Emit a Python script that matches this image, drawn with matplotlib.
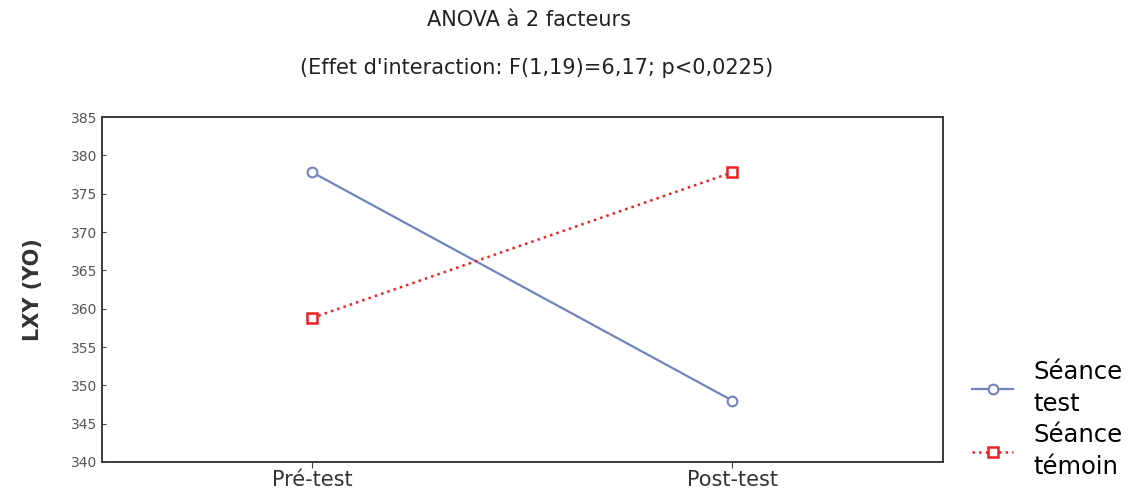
import matplotlib.pyplot as plt
import numpy as np

# Données
phases = ['Pré-test', 'Post-test']
seance_test = [377.8, 348.0]
seance_temoin = [358.8, 377.8]
y_ticks = [340, 345, 350, 355, 360, 365, 370, 375, 380, 385]

plt.rcParams['font.family'] = ['DejaVu Sans']

fig = plt.figure(figsize=(11.33, 4.92), dpi=100)
ax = fig.add_axes([0.090, 0.061, 0.742, 0.701])

x = np.arange(len(phases))
ax.plot(x, seance_test, color='#7283bd', lw=1.6, marker='o', ms=7,
        mfc='white', mec='#7283bd', mew=1.5, label='Séance\ntest')
ax.plot(x, seance_temoin, color='#f02020', lw=1.8, ls=':', marker='s', ms=7,
        mfc='white', mec='#f02020', mew=1.8, label='Séance\ntémoin')

ax.set_xlim(-0.5, 1.5)
ax.set_ylim(340, 385)
ax.set_xticks(x)
ax.set_xticklabels(phases, fontsize=15, color='#333333')
ax.set_yticks(y_ticks)
ax.set_yticklabels([str(v) for v in y_ticks], fontsize=10, color='#555555')
ax.tick_params(axis='y', direction='in', length=3, color='#444444')
ax.tick_params(axis='x', direction='out', length=4, color='#444444', pad=2)
for s in ax.spines.values():
    s.set_color('#3a3a3a')
    s.set_linewidth(1.4)

ax.set_ylabel('LXY (YO)', fontsize=15, fontweight='bold', color='#333333', labelpad=20)

fig.text(0.467, 0.960, 'ANOVA à 2 facteurs', ha='center', va='center',
         fontsize=15, color='#222222')
fig.text(0.474, 0.862, "(Effet d'interaction: F(1,19)=6,17; p<0,0225)",
         ha='center', va='center', fontsize=15, color='#222222')

leg = fig.legend(loc='upper left', bbox_to_anchor=(0.858, 0.268), frameon=False,
                 fontsize=17.5, handlelength=1.7, handletextpad=0.8,
                 labelspacing=0.3, borderaxespad=0, borderpad=0)
for t in leg.get_texts():
    t.set_linespacing(1.4)

fig.savefig('out.png', dpi=100)
